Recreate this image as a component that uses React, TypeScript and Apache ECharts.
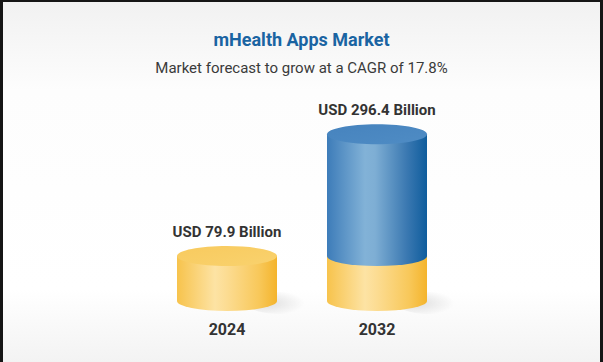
import React, { useEffect, useRef } from "react";
import * as echarts from "echarts";

const years = ["2024", "2032"];
const marketSize = [79.9, 296.4];
const valueLabels = ["USD 79.9 Billion", "USD 296.4 Billion"];
const titleText = "mHealth Apps Market";
const subtitleText = "Market forecast to grow at a CAGR of 17.8%";

const FONT = "Roboto, 'Noto Sans', sans-serif";

function bodyGradient(kind: "blue" | "yellow") {
  const stops =
    kind === "blue"
      ? [
          { offset: 0, color: "#3d7cb9" },
          { offset: 0.38, color: "#82b2d7" },
          { offset: 0.48, color: "#7eaed4" },
          { offset: 0.8, color: "#3a78b1" },
          { offset: 1, color: "#0f5d9d" },
        ]
      : [
          { offset: 0, color: "#f7c34c" },
          { offset: 0.38, color: "#fde3a4" },
          { offset: 0.5, color: "#fcdc92" },
          { offset: 0.82, color: "#f8c85a" },
          { offset: 1, color: "#f4b42c" },
        ];
  return new echarts.graphic.LinearGradient(0, 0, 1, 0, stops);
}

export default function App() {
  const ref = useRef<HTMLDivElement>(null);
  useEffect(() => {
    if (!ref.current) return;
    const chart = echarts.init(ref.current, null, { renderer: "svg" });
    const baseValue = marketSize[0];
    const data = marketSize.map((v, i) => [i, v]);
    const rx = 50;
    const ry = 10;

    const renderItem = (params: any, api: any) => {
      const idx = api.value(0);
      const val = api.value(1);
      const base = api.coord([idx, 0]);
      const top = api.coord([idx, val]);
      const mid = api.coord([idx, Math.min(val, baseValue)]);
      const cx = base[0];
      const by = base[1];
      const ty = top[1];
      const my = mid[1];
      const body = (y1: number, y2: number) =>
        `M ${cx - rx} ${y1} L ${cx - rx} ${y2} A ${rx} ${ry} 0 0 0 ${cx + rx} ${y2} L ${cx + rx} ${y1} Z`;
      const children: any[] = [];
      // shadow
      children.push({
        type: "ellipse",
        shape: { cx: cx + rx + 2, cy: by + 2, rx: 32, ry: 11 },
        style: {
          fill: new echarts.graphic.RadialGradient(0.3, 0.5, 0.6, [
            { offset: 0, color: "rgba(0,0,0,0.12)" },
            { offset: 1, color: "rgba(0,0,0,0)" },
          ]),
        },
        z2: 0,
      });
      children.push({
        type: "path",
        shape: { pathData: body(my, by) },
        style: { fill: bodyGradient("yellow") },
        z2: 1,
      });
      const hasUpper = val > baseValue;
      if (hasUpper) {
        children.push({
          type: "path",
          shape: { pathData: body(ty, my) },
          style: { fill: bodyGradient("blue") },
          z2: 2,
        });
      }
      children.push({
        type: "ellipse",
        shape: { cx, cy: ty, rx, ry },
        style: {
          fill: hasUpper
            ? new echarts.graphic.LinearGradient(0, 0, 1, 1, [
                { offset: 0, color: "#4683be" },
                { offset: 1, color: "#4f8cc4" },
              ])
            : new echarts.graphic.LinearGradient(0, 0, 1, 1, [
                { offset: 0, color: "#f8ca5e" },
                { offset: 1, color: "#f9d26e" },
              ]),
        },
        z2: 3,
      });
      children.push({
        type: "text",
        style: {
          x: cx,
          y: ty - ry - 14,
          text: valueLabels[idx],
          fill: "#333333",
          font: `bold 15px ${FONT}`,
          align: "center",
          verticalAlign: "middle",
        },
        z2: 4,
      });
      return { type: "group", children };
    };

    chart.setOption({
      animation: false,
      graphic: [
        {
          type: "rect",
          z: -10,
          shape: { x: 0, y: 0, width: 603, height: 362 },
          style: {
            fill: new echarts.graphic.LinearGradient(0, 0, 0, 1, [
              { offset: 0, color: "#f1f1f1" },
              { offset: 0.25, color: "#fdfdfd" },
              { offset: 0.8, color: "#ffffff" },
              { offset: 1, color: "#f3f3f3" },
            ]),
          },
          silent: true,
        },
        { type: "rect", z: 10, shape: { x: 0, y: 0, width: 603, height: 2 }, style: { fill: "#151515" } },
        { type: "rect", z: 10, shape: { x: 0, y: 0, width: 3, height: 362 }, style: { fill: "#151515" } },
        { type: "rect", z: 10, shape: { x: 600, y: 0, width: 3, height: 362 }, style: { fill: "#151515" } },
      ],
      title: [
        {
          text: titleText,
          left: "center",
          top: 25,
          textStyle: { fontFamily: FONT, fontWeight: "bold", fontSize: 18, color: "#1a64a2" },
        },
        {
          text: subtitleText,
          left: "center",
          top: 55,
          textStyle: { fontFamily: FONT, fontWeight: "normal", fontSize: 15, color: "#3a3a3a" },
        },
      ],
      grid: { left: 152, width: 300, top: 76, bottom: 61 },
      xAxis: {
        type: "category",
        data: years,
        axisLine: { show: false },
        axisTick: { show: false },
        axisLabel: {
          margin: 20,
          fontFamily: FONT,
          fontWeight: "bold",
          fontSize: 16,
          color: "#333333",
        },
      },
      yAxis: {
        type: "value",
        min: 0,
        max: 400,
        show: false,
        splitLine: { show: false },
      },
      series: [
        {
          type: "custom",
          renderItem,
          data,
          clip: false,
        },
      ],
    });
    return () => chart.dispose();
  }, []);
  return (
    <div
      ref={ref}
      style={{ position: "absolute", left: 0, top: 0, width: 603, height: 362 }}
    />
  );
}
